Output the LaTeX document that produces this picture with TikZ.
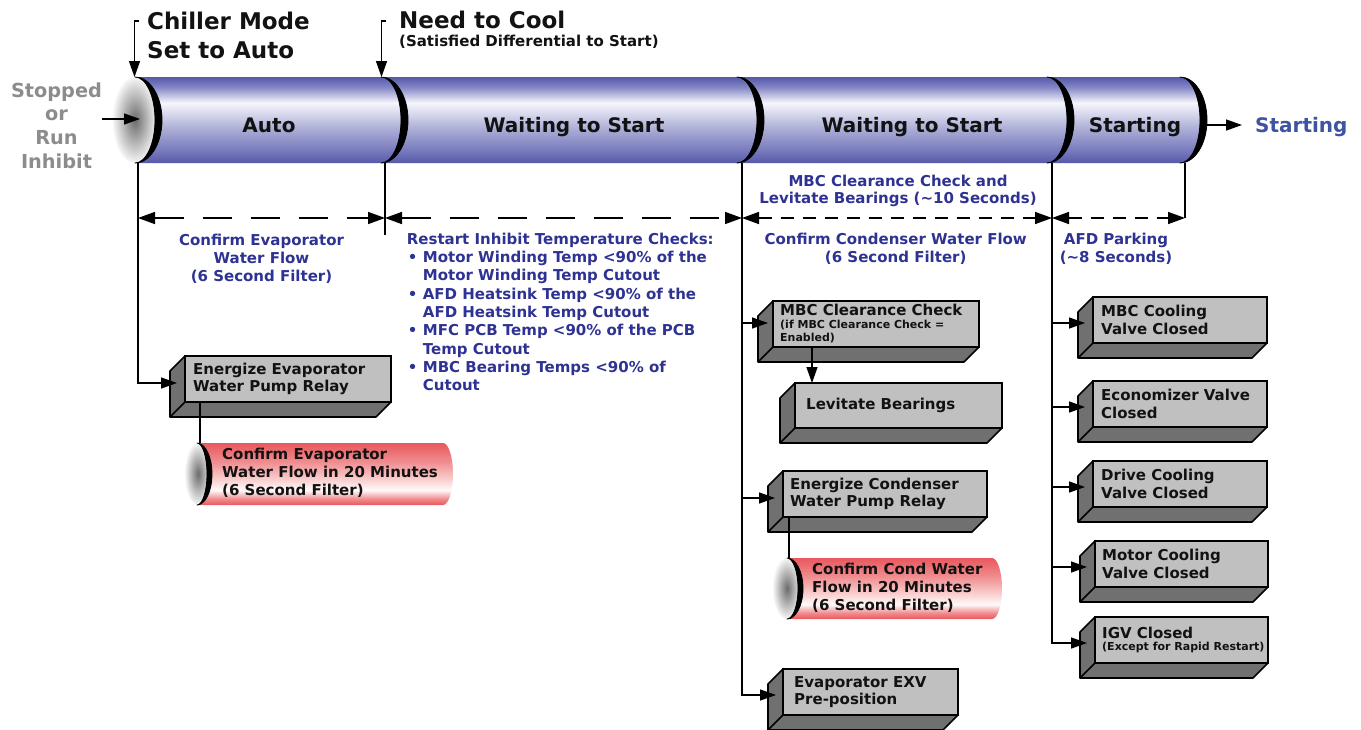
\documentclass[tikz,border=0pt]{standalone}
\usepackage{fontspec}
\setmainfont{DejaVu Sans}
\usetikzlibrary{arrows.meta,calc}
\definecolor{lblue}{RGB}{46,50,146}
\definecolor{sblue}{RGB}{63,83,163}
\definecolor{stopgray}{RGB}{140,140,140}
\definecolor{facegray}{RGB}{192,192,192}
\definecolor{sidegray}{RGB}{112,112,112}
\definecolor{txtc}{RGB}{18,18,18}
\definecolor{capdark}{RGB}{108,108,108}
\definecolor{caplight}{RGB}{246,246,246}
\definecolor{pbE}{RGB}{86,89,168}
\definecolor{pb1}{RGB}{132,135,198}
\definecolor{pbW}{RGB}{246,246,252}
\definecolor{pb3}{RGB}{222,222,240}
\definecolor{pb4}{RGB}{172,174,214}
\definecolor{pb5}{RGB}{118,121,188}
\definecolor{prE}{RGB}{232,88,92}
\definecolor{pr1}{RGB}{240,140,143}
\definecolor{pr2}{RGB}{250,210,210}
\definecolor{prW}{RGB}{255,250,250}
\pgfdeclareverticalshading{pipeblue}{100bp}{color(0bp)=(pbE); color(25bp)=(pbE); color(32bp)=(pb5); color(45bp)=(pb4); color(55bp)=(pb3); color(60bp)=(pbW); color(69bp)=(pb1); color(75bp)=(pbE); color(100bp)=(pbE)}
\pgfdeclareverticalshading{pipered}{100bp}{color(0bp)=(prE); color(25bp)=(prE); color(30bp)=(pr1); color(37bp)=(prW); color(45bp)=(pr2); color(60bp)=(pr1); color(75bp)=(prE); color(100bp)=(prE)}
\newcommand\boxsides[1]{%
  \filldraw[fill=sidegray,draw=black,line width=1.6pt,line join=round]
    (#1.north west) -- ++(-15,15) |- ($(#1.south east)+(-15,15)$) -- (#1.south east) -- (#1.south west) -- cycle;
  \draw[line width=1.6pt] (#1.south west) -- ++(-15,15);}
\newcommand\crescent[5]{%
  \filldraw[black,line width=0.8pt,line join=round] (#1,#2) arc[start angle=-90,end angle=90,x radius=#4,y radius=#3]
    arc[start angle=90,end angle=-90,x radius=#5,y radius=#3] -- cycle;}
\newcommand\smalltxt{\fontsize{11}{13}\selectfont}
\begin{document}
\begin{tikzpicture}[x=1pt,y=-1pt,
  facebox/.style={draw=black,line width=1.6pt,fill=facegray,inner sep=0pt,outer sep=0pt,anchor=north west},
  boxtxt/.style={font=\fontsize{15}{17.8}\selectfont\bfseries,text=txtc,align=left,anchor=west,inner sep=0pt},
  lbl/.style={font=\fontsize{15}{18}\selectfont\bfseries,text=lblue,inner sep=0pt,align=center,anchor=north},
  conn/.style={line width=1.4pt,-{Triangle[length=16pt,width=11pt]}},
  plain/.style={line width=1.4pt},
  dimlong/.style={line width=1.6pt,dash pattern=on 29pt off 19pt,{Triangle[length=17pt,width=12pt]}-{Triangle[length=17pt,width=12pt]}},
  dimshort/.style={line width=1.6pt,dash pattern=on 13pt off 9pt,{Triangle[length=17pt,width=12pt]}-{Triangle[length=17pt,width=12pt]}},
  pipetxt/.style={font=\fontsize{20}{24}\selectfont\bfseries,text=txtc,inner sep=0pt,anchor=base}
]
\useasboundingbox (0,0) rectangle (1361,729);

% ---------- main pipe ----------
\shade[shading=pipeblue] (135,77) -- (1180,77) arc[start angle=-90,end angle=90,x radius=27,y radius=43] -- (135,163) -- cycle;
\shade[inner color=capdark,outer color=caplight] (135,120) ellipse[x radius=22,y radius=43];
\crescent{135}{77}{43}{27}{20}
\crescent{381}{77}{43}{27}{20}
\crescent{737}{77}{43}{27}{20}
\crescent{1047}{77}{43}{27}{20}
\crescent{1180}{77}{43}{27}{20}

\node[pipetxt] (lAuto) at (269,132) {Auto};
\node[pipetxt] (lWait1) at (574,132) {Waiting to Start};
\node[pipetxt] (lWait2) at (912,132) {Waiting to Start};
\node[pipetxt] (lStart) at (1135,132) {Starting};
\node[pipetxt,text=sblue,anchor=base west] (outStart) at (1255,132) {Starting};
\coordinate (pipeEnd) at (1207,125);
\draw[conn,shorten >=13pt] (pipeEnd) -- (outStart.west |- pipeEnd);

% ---------- left / top labels ----------
\node[font=\fontsize{19.3}{23.7}\selectfont\bfseries,text=stopgray,align=center,anchor=north,inner sep=0pt] (stopped) at (56.5,82.3) {Stopped\\or\\Run\\Inhibit};
\coordinate (stopOut) at (102,119);
\coordinate (capIn) at (140,119);
\draw[conn] (stopOut) -- (capIn);

\node[font=\fontsize{23}{29}\selectfont\bfseries,text=txtc,align=left,anchor=north west,inner sep=0pt] (chiller) at (147,11.8) {Chiller Mode\\Set to Auto};
\coordinate (chillTop) at (139,21);
\coordinate (chillTip) at (134.5,77);
\draw[conn] (chillTop) -- (chillTip |- chillTop) -- (chillTip);

\node[font=\fontsize{23}{29}\selectfont\bfseries,text=txtc,anchor=north west,inner sep=0pt] (need) at (399,10.8) {Need to Cool};
\node[font=\fontsize{15}{18}\selectfont\bfseries,text=txtc,anchor=base west,inner sep=0pt] (satisfied) at (399,46) {(Satisfied Differential to Start)};
\coordinate (needTop) at (386,21);
\coordinate (needTip) at (381.5,77);
\draw[conn] (needTop) -- (needTip |- needTop) -- (needTip);

% ---------- segment drops and dimension lines ----------
\coordinate (s1) at (138,163);
\coordinate (s2) at (385,163);
\coordinate (s3) at (742,163);
\coordinate (s4) at (1052,163);
\coordinate (s5) at (1185,163);
\coordinate (dy) at (0,218);
\draw[plain] (s2) -- ++(0,72);
\draw[plain] (s5) -- (s5 |- dy);
\draw[dimlong] (s1 |- dy) -- (s2 |- dy);
\draw[dimlong] (s2 |- dy) -- (s3 |- dy);
\draw[dimshort] (s3 |- dy) -- (s4 |- dy);
\draw[dimshort] (s4 |- dy) -- (s5 |- dy);

% ---------- blue labels ----------
\node[lbl] (lblEvap) at (261.5,233.6) {Confirm Evaporator\\Water Flow\\(6 Second Filter)};
\node[lbl,anchor=north west,align=left,font=\fontsize{15}{18.3}\selectfont\bfseries] (lblRestart) at (406.7,232.6)
 {Restart Inhibit Temperature Checks:\\
  \makebox[16pt][l]{\hspace{1pt}\textbullet}Motor Winding Temp <90\% of the\\
  \hspace*{16pt}Motor Winding Temp Cutout\\
  \makebox[16pt][l]{\hspace{1pt}\textbullet}AFD Heatsink Temp <90\% of the\\
  \hspace*{16pt}AFD Heatsink Temp Cutout\\
  \makebox[16pt][l]{\hspace{1pt}\textbullet}MFC PCB Temp <90\% of the PCB\\
  \hspace*{16pt}Temp Cutout\\
  \makebox[16pt][l]{\hspace{1pt}\textbullet}MBC Bearing Temps <90\% of\\
  \hspace*{16pt}Cutout};
\node[lbl,font=\fontsize{15}{17.5}\selectfont\bfseries] (lblMbc) at (898,174.6) {MBC Clearance Check and\\Levitate Bearings (\textasciitilde10 Seconds)};
\node[lbl] (lblCond) at (895.7,232.6) {Confirm Condenser Water Flow\\(6 Second Filter)};
\node[lbl] (lblAfd) at (1116,232.9) {AFD Parking\\(\textasciitilde8 Seconds)};

% ---------- boxes ----------
\node[facebox,minimum width=206,minimum height=46] (bEvap) at (185,356) {};
\boxsides{bEvap}
\node[boxtxt] (tEvap) at ($(bEvap.west)+(8,0)$) {Energize Evaporator\\Water Pump Relay};

\node[facebox,minimum width=206,minimum height=46] (bChk) at (773,301) {};
\boxsides{bChk}
\node[boxtxt] (tChk) at ($(bChk.west)+(7,0)$) {MBC Clearance Check\\[-4.8pt]\smalltxt(if MBC Clearance Check =\\[-4.8pt]\smalltxt Enabled)};

\node[facebox,minimum width=207,minimum height=45] (bLev) at (795,383) {};
\boxsides{bLev}
\node[boxtxt] (tLev) at ($(bLev.west)+(11,0)$) {Levitate Bearings};

\node[facebox,minimum width=204,minimum height=46] (bCond) at (783,471) {};
\boxsides{bCond}
\node[boxtxt] (tCond) at ($(bCond.west)+(7,0)$) {Energize Condenser\\Water Pump Relay};

\node[facebox,minimum width=175,minimum height=46] (bExv) at (783,669) {};
\boxsides{bExv}
\node[boxtxt] (tExv) at ($(bExv.west)+(11,0)$) {Evaporator EXV\\Pre-position};

\node[facebox,minimum width=174,minimum height=46] (bMbcCool) at (1093,297) {};
\boxsides{bMbcCool}
\node[boxtxt] (tMbcCool) at ($(bMbcCool.west)+(8,0)$) {MBC Cooling\\Valve Closed};

\node[facebox,minimum width=174,minimum height=46] (bEcon) at (1093,381) {};
\boxsides{bEcon}
\node[boxtxt] (tEcon) at ($(bEcon.west)+(8,0)$) {Economizer Valve\\Closed};

\node[facebox,minimum width=174,minimum height=46] (bDrive) at (1093,461) {};
\boxsides{bDrive}
\node[boxtxt] (tDrive) at ($(bDrive.west)+(8,0)$) {Drive Cooling\\Valve Closed};

\node[facebox,minimum width=173,minimum height=46] (bMotor) at (1095,541) {};
\boxsides{bMotor}
\node[boxtxt] (tMotor) at ($(bMotor.west)+(7,0)$) {Motor Cooling\\Valve Closed};

\node[facebox,minimum width=173,minimum height=46] (bIgv) at (1095,617) {};
\boxsides{bIgv}
\node[boxtxt] (tIgv) at ($(bIgv.west)+(7,0)$) {IGV Closed\\[-6pt]\smalltxt(Except for Rapid Restart)};

% ---------- red pipes ----------
\shade[shading=pipered] (197,443) -- (443,443) arc[start angle=-90,end angle=90,x radius=10,y radius=31] -- (197,505) -- cycle;
\shade[inner color=capdark,outer color=caplight] (198,474) ellipse[x radius=13,y radius=31];
\crescent{197}{443}{31}{15}{10}
\coordinate (r1top) at (198,443);
\node[boxtxt] (tR1) at (222,473) {Confirm Evaporator\\Water Flow in 20 Minutes\\(6 Second Filter)};

\shade[shading=pipered] (787,558) -- (992,558) arc[start angle=-90,end angle=90,x radius=10,y radius=30.5] -- (787,619) -- cycle;
\shade[inner color=capdark,outer color=caplight] (787,588.5) ellipse[x radius=14,y radius=30.5];
\crescent{787}{558}{30.5}{16}{11}
\coordinate (r2top) at (789,558);
\node[boxtxt] (tR2) at (812,588) {Confirm Cond Water\\Flow in 20 Minutes\\(6 Second Filter)};

% ---------- connectors ----------
\coordinate (tipEvap) at ($(bEvap.west)+(-8,4)$);
\coordinate (tipChk) at ($(bChk.west)+(-5,-1)$);
\coordinate (tipCond) at ($(bCond.west)+(-8,4)$);
\coordinate (tipExv) at ($(bExv.west)+(-7,3)$);
\coordinate (tipMbcCool) at ($(bMbcCool.west)+(-8,3)$);
\coordinate (tipEcon) at ($(bEcon.west)+(-8,3)$);
\coordinate (tipDrive) at ($(bDrive.west)+(-8,3)$);
\coordinate (tipMotor) at ($(bMotor.west)+(-8,3)$);
\coordinate (tipIgv) at ($(bIgv.west)+(-8,3)$);

\draw[conn] (s1) |- (tipEvap);
\draw[conn] (s3) |- (tipExv);
\draw[conn] (s3 |- tipChk) -- (tipChk);
\draw[conn] (s3 |- tipCond) -- (tipCond);
\draw[conn] (s4) |- (tipIgv);
\foreach \t in {tipMbcCool,tipEcon,tipDrive,tipMotor}
  \draw[conn] (s4 |- \t) -- (\t);

\coordinate (chkOut) at ($(bChk.south west)+(39,0)$);
\draw[conn] (chkOut) -- (chkOut |- bLev.north);
\coordinate (evapOut) at ($(bEvap.south west)+(15,0)$);
\draw[plain] (evapOut) -- (evapOut |- r1top);
\coordinate (condOut) at ($(bCond.south west)+(6,0)$);
\draw[plain] (condOut) -- (condOut |- r2top);
\end{tikzpicture}
\end{document}
